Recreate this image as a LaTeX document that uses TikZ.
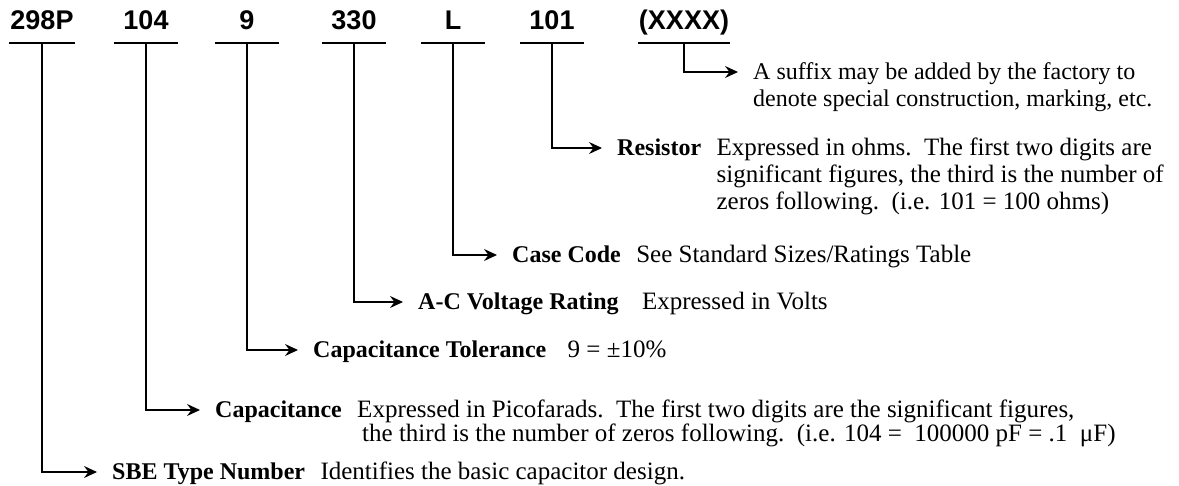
\documentclass[tikz,border=0pt]{standalone}
\usepackage{fontspec}
\setmainfont{Liberation Serif}
\newfontfamily\codefont{Liberation Sans}
\usetikzlibrary{arrows.meta}
\begin{document}
\begin{tikzpicture}[x=1pt,y=-1pt,
  code/.style={anchor=south,font=\codefont\bfseries\fontsize{27}{27}\selectfont,minimum width=64pt,inner xsep=1pt,inner ysep=13pt,text depth=0pt},
  rule/.style={line width=1.2pt},
  lead/.style={line width=1.2pt,-{Stealth[length=13pt,width=12pt,inset=4.5pt]}},
  head/.style={anchor=west,inner xsep=15pt,inner ysep=0pt,text height=17pt,text depth=2pt,font=\bfseries\fontsize{24}{27}\selectfont},
  body/.style={anchor=base west,inner sep=0pt,font=\fontsize{25}{27}\selectfont}]
\useasboundingbox (0,0) rectangle (1179,485);
% part number
\node[code] (c298) at (42,43) {298P};
\node[code] (c104) at (146,43) {104};
\node[code] (c9) at (247,43) {9};
\node[code] (c330) at (354,43) {330};
\node[code] (cL) at (453,43) {L};
\node[code] (c101) at (552,43) {101};
\node[code] (cX) at (684,43) {(XXXX)};
\foreach \c in {c298,c104,c9,c330,cL,c101,cX}
  \draw[rule] (\c.south west) -- (\c.south east);
% field descriptions
\node[head,font=\fontsize{24}{27}\selectfont] (tSfx) at (738,72) {\begin{tabular}[t]{@{}l@{}}A suffix may be added by the factory to\\denote special construction, marking, etc.\end{tabular}};
\node[head] (tRes) at (602,148) {Resistor};
\node[body] (dRes) at (tRes.base east) {\begin{tabular}[t]{@{}l@{}}Expressed in ohms.\ \ The first two digits are\\significant figures, the third is the number of\\zeros following.\ \ (i.e. 101 = 100 ohms)\end{tabular}};
\node[head] (tCase) at (497,255) {Case Code};
\node[body] (dCase) at (tCase.base east) {See Standard Sizes/Ratings Table};
\node[head] (tVolt) at (403,302) {A-C Voltage Rating};
\node[body,xshift=8pt] (dVolt) at (tVolt.base east) {Expressed in Volts};
\node[head] (tTol) at (298,350) {Capacitance Tolerance};
\node[body,xshift=6pt] (dTol) at (tTol.base east) {9 = ±10\%};
\node[head] (tCap) at (200,410) {Capacitance};
\node[body] (dCap) at (tCap.base east) {\begin{tabular}[t]{@{}l@{}}Expressed in Picofarads.\ \ The first two digits are the significant figures,\\[-3pt]\hspace{5pt}the third is the number of zeros following.\ \ (i.e. 104 = \ 100000 pF = .1 \ μF)\end{tabular}};
\node[head] (tSBE) at (97,472) {SBE Type Number};
\node[body] (dSBE) at (tSBE.base east) {Identifies the basic capacitor design.};
% leaders
\draw[lead] (cX.south) |- (tSfx.west);
\draw[lead] (c101.south) |- (tRes.west);
\draw[lead] (cL.south) |- (tCase.west);
\draw[lead] (c330.south) |- (tVolt.west);
\draw[lead] (c9.south) |- (tTol.west);
\draw[lead] (c104.south) |- (tCap.west);
\draw[lead] (c298.south) |- (tSBE.west);
\end{tikzpicture}
\end{document}
